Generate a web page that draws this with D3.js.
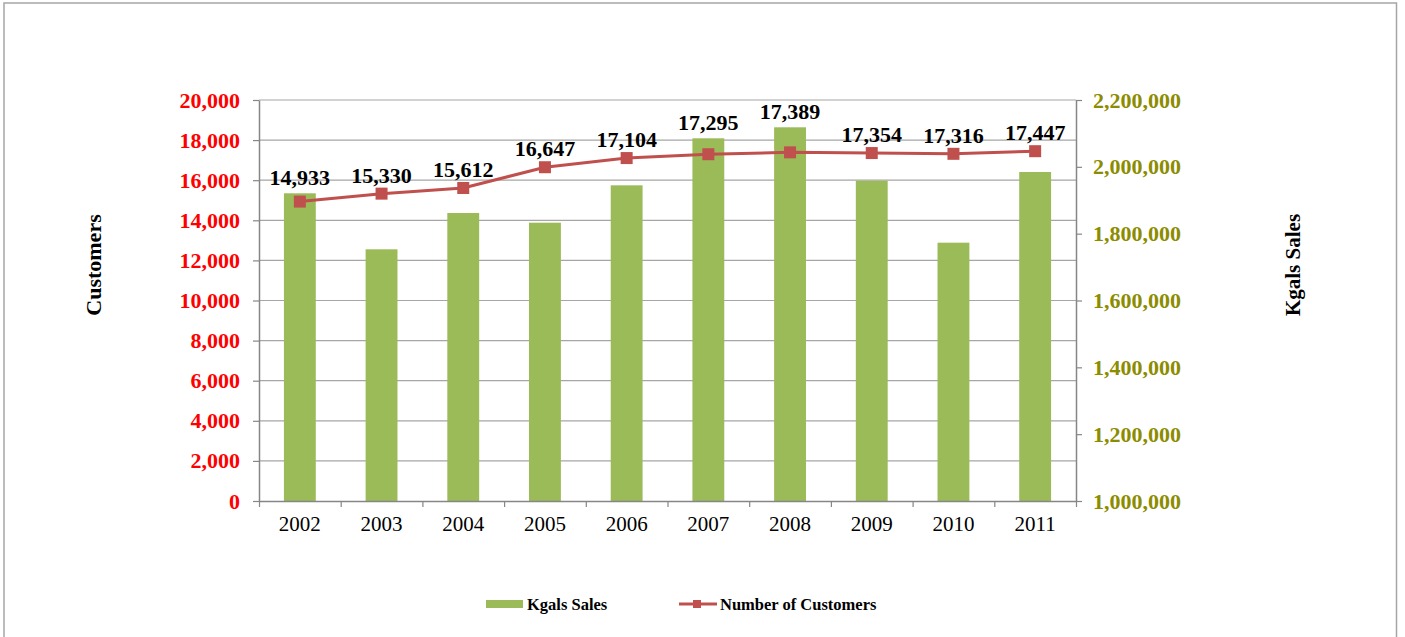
<!DOCTYPE html>
<html><head><meta charset="utf-8">
<script src="https://cdn.jsdelivr.net/npm/d3@7"></script>
<style>body{margin:0;background:#fff}svg{display:block}</style>
</head><body>
<script>
const years = ["2002","2003","2004","2005","2006","2007","2008","2009","2010","2011"];
const kgalsSales = [1920800, 1753200, 1861800, 1832800, 1944700, 2085400, 2118300, 1958500, 1773000, 1984500];
const customers = [14933, 15330, 15612, 16647, 17104, 17295, 17389, 17354, 17316, 17447];
const customerTicks = [0, 2000, 4000, 6000, 8000, 10000, 12000, 14000, 16000, 18000, 20000];
const kgalsTicks = [1000000, 1200000, 1400000, 1600000, 1800000, 2000000, 2200000];
const seriesNames = ["Kgals Sales", "Number of Customers"];
const axisTitles = ["Customers", "Kgals Sales"];

const W = 1405, H = 637;
const L = 259, R = 1076, T = 100, B = 501;
const FONT = "'Liberation Serif','Times New Roman',serif";
const GREEN = "#9BBB59", RED = "#C0504D", OLIVE = "#8c8c00";

const svg = d3.select("body").append("svg").attr("width", W).attr("height", H)
  .style("font-family", FONT);

svg.append("rect").attr("x", 4).attr("y", 3).attr("width", 1392.5).attr("height", 660)
  .attr("fill", "none").attr("stroke", "#a6a6a6").attr("stroke-width", 1.5);

const x = d3.scaleBand().domain(years).range([L, R]).paddingInner(0.61).paddingOuter(0.305);
const xb = d3.scaleLinear().domain([0, years.length]).range([L, R]);
const yL = d3.scaleLinear().domain([0, 20000]).range([B, T]);
const yR = d3.scaleLinear().domain([1000000, 2200000]).range([B, T]);
const cx = d => x(d) + x.bandwidth() / 2;

// gridlines
svg.append("g").selectAll("line").data(customerTicks.filter(d => d > 0)).join("line")
  .attr("x1", L).attr("x2", R).attr("y1", d => yL(d)).attr("y2", d => yL(d))
  .attr("stroke", "#a6a6a6").attr("stroke-width", 1.2);

// bars
svg.append("g").selectAll("rect").data(years).join("rect")
  .attr("x", d => x(d)).attr("width", x.bandwidth())
  .attr("y", (d, i) => yR(kgalsSales[i])).attr("height", (d, i) => B - yR(kgalsSales[i]))
  .attr("fill", GREEN);

// left axis
const gl = svg.append("g").attr("transform", `translate(${L},0)`)
  .call(d3.axisLeft(yL).tickValues(customerTicks).tickSize(6).tickSizeOuter(0).tickPadding(13).tickFormat(d3.format(",")));
gl.select(".domain").attr("stroke", "#868686").attr("stroke-width", 1.5);
gl.selectAll(".tick line").attr("stroke", "#868686").attr("stroke-width", 1.2);
gl.selectAll("text").attr("fill", "#ff0000").style("font-size", "22px").style("font-weight", "bold").style("font-family", FONT);

// right axis
const gr = svg.append("g").attr("transform", `translate(${R},0)`)
  .call(d3.axisRight(yR).tickValues(kgalsTicks).tickSize(6).tickSizeOuter(0).tickPadding(11).tickFormat(d3.format(",")));
gr.select(".domain").attr("stroke", "#868686").attr("stroke-width", 1.5);
gr.selectAll(".tick line").attr("stroke", "#868686").attr("stroke-width", 1.2);
gr.selectAll("text").attr("fill", OLIVE).style("font-size", "22px").style("font-weight", "bold").style("font-family", FONT);

// bottom axis: boundary ticks
const gb = svg.append("g").attr("transform", `translate(0,${B})`)
  .call(d3.axisBottom(xb).tickValues(d3.range(years.length + 1)).tickSize(6).tickSizeOuter(0).tickFormat(""));
gb.select(".domain").attr("stroke", "#868686").attr("stroke-width", 1.5);
gb.selectAll(".tick line").attr("stroke", "#868686").attr("stroke-width", 1.2);
// bottom labels
const gbl = svg.append("g").attr("transform", `translate(0,${B})`)
  .call(d3.axisBottom(x).tickSize(0).tickPadding(15));
gbl.select(".domain").remove();
gbl.selectAll("text").attr("fill", "#000").style("font-size", "21px").style("font-family", FONT);

// line
svg.append("path").datum(customers)
  .attr("d", d3.line().x((d, i) => cx(years[i])).y(d => yL(d)))
  .attr("fill", "none").attr("stroke", RED).attr("stroke-width", 3);
const ms = 12;
svg.append("g").selectAll("rect").data(customers).join("rect")
  .attr("x", (d, i) => cx(years[i]) - ms / 2).attr("y", d => yL(d) - ms / 2)
  .attr("width", ms).attr("height", ms).attr("fill", RED);

// data labels: above the marker, or above the bar when the bar is taller
svg.append("g").selectAll("text").data(customers).join("text")
  .attr("x", (d, i) => cx(years[i]))
  .attr("y", (d, i) => {
    const mTop = yL(d) - ms / 2, bTop = yR(kgalsSales[i]);
    return bTop < mTop ? bTop - 8 : mTop - 5;
  })
  .attr("text-anchor", "middle").style("font-size", "22px").style("font-weight", "bold")
  .text(d => d3.format(",")(d));

// axis titles
svg.append("text").attr("transform", "translate(93,265) rotate(-90)")
  .attr("text-anchor", "middle").attr("dominant-baseline", "central")
  .style("font-size", "22px").style("font-weight", "bold").text(axisTitles[0]);
svg.append("text").attr("transform", "translate(1293,265) rotate(-90)")
  .attr("text-anchor", "middle").attr("dominant-baseline", "central")
  .style("font-size", "21px").style("font-weight", "bold").text(axisTitles[1]);

// legend
const lg = svg.append("g");
lg.append("rect").attr("x", 486).attr("y", 600).attr("width", 37).attr("height", 8).attr("fill", GREEN);
lg.append("text").attr("x", 527).attr("y", 610).style("font-size", "16.5px").style("font-weight", "bold").text(seriesNames[0]);
lg.append("line").attr("x1", 679).attr("x2", 717).attr("y1", 604).attr("y2", 604).attr("stroke", RED).attr("stroke-width", 3);
lg.append("rect").attr("x", 693).attr("y", 600).attr("width", 8).attr("height", 8).attr("fill", RED);
lg.append("text").attr("x", 720).attr("y", 610).style("font-size", "16.5px").style("font-weight", "bold").text(seriesNames[1]);
</script>
</body></html>
